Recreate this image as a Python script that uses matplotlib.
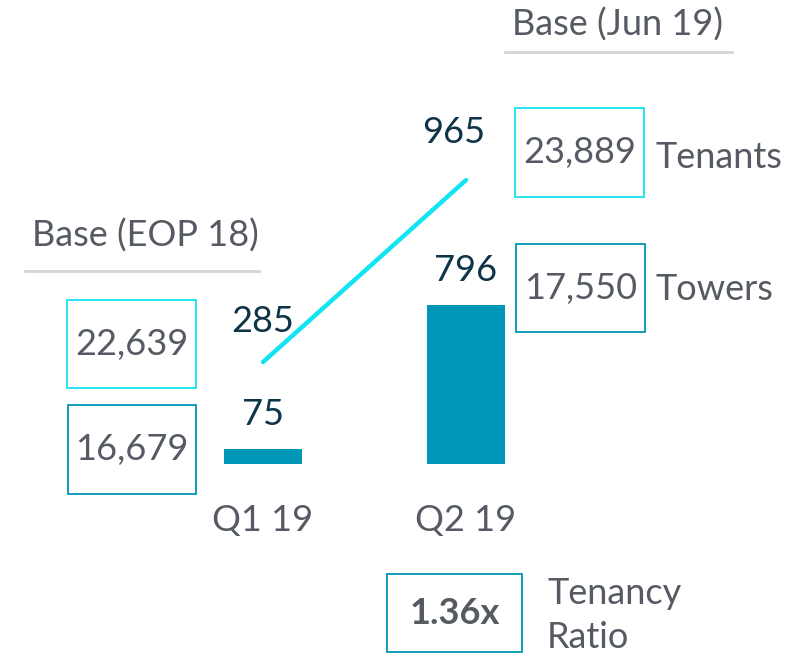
import matplotlib
matplotlib.use("Agg")
import matplotlib.pyplot as plt
from matplotlib.patches import Rectangle

plt.rcParams['font.family'] = ['Lato', 'DejaVu Sans']

# quarterly additions
quarters = ['Q1 19', 'Q2 19']
towers_added = [75, 796]
tenants_added = [285, 965]

# base figures
base_eop18 = {'tenants': '22,639', 'towers': '16,679'}
base_jun19 = {'tenants': '23,889', 'towers': '17,550'}
tenancy_ratio = '1.36x'

BAR = '#0096b8'
LINE = '#13e4f2'
NAVY = '#0d3447'
GRAY = '#555a63'
RULE = '#d4d4d4'
FS = 26

W, H = 796, 657
fig = plt.figure(figsize=(W / 100, H / 100), dpi=100)

# main axes: bars on the left scale, tenants line on a twin scale
ax = fig.add_axes([161.5 / W, 193 / H, 406 / W, 464 / H])
ax.set_xlim(-0.5, 1.5)
ax.set_ylim(0, 2323)
ax.axis('off')
x = list(range(len(quarters)))
ax.bar(x, towers_added, width=0.384, color=BAR)
for xi, v in zip(x, towers_added):
    ax.annotate(str(v), (xi, v), xytext=(0, 25), textcoords='offset points',
                ha='center', va='center', fontsize=FS, color=NAVY)
for xi, q in zip(x, quarters):
    ax.annotate(q, (xi, 0), xytext=(0, -41), textcoords='offset points',
                ha='center', va='center', fontsize=FS, color=GRAY)

ax2 = ax.twinx()
ax2.set_xlim(-0.5, 1.5)
ax2.set_ylim(-96, 1638)
ax2.axis('off')
ax2.plot(x, tenants_added, color=LINE, lw=3.2, solid_capstyle='round')
offsets = [(0, 29), (-9, 34)]
for xi, v, off in zip(x, tenants_added, offsets):
    ax2.annotate(str(v), (xi, v), xytext=off, textcoords='offset points',
                 ha='center', va='center', fontsize=FS, color=NAVY)

# overlay in pixel coordinates for boxes and headings
ov = fig.add_axes([0, 0, 1, 1])
ov.set_xlim(0, W)
ov.set_ylim(H, 0)
ov.axis('off')


def box(x0, y0, x1, y1, edge, text, bold=False):
    ov.add_patch(Rectangle((x0, y0), x1 - x0, y1 - y0, fill=False,
                           edgecolor=edge, lw=1.3))
    ov.text((x0 + x1) / 2, (y0 + y1) / 2, text, ha='center', va='center',
            fontsize=FS, color=GRAY, fontweight='bold' if bold else 'normal')


box(67, 300, 196, 388, LINE, base_eop18['tenants'])
box(68, 405, 196, 494, BAR, base_eop18['towers'])
box(515, 108, 644, 197, LINE, base_jun19['tenants'])
box(516, 244, 645, 332, BAR, base_jun19['towers'])
box(387, 574, 522, 652, BAR, tenancy_ratio, bold=True)

ov.text(655, 158, 'Tenants', ha='left', va='center', fontsize=FS, color=GRAY)
ov.text(655, 289, 'Towers', ha='left', va='center', fontsize=FS, color=GRAY)
ov.text(547, 594, 'Tenancy', ha='left', va='center', fontsize=FS, color=GRAY)
ov.text(547, 637, 'Ratio', ha='left', va='center', fontsize=FS, color=GRAY)

ov.text(145, 236, 'Base (EOP 18)', ha='center', va='center', fontsize=FS, color=GRAY)
ov.plot([25, 259], [271, 271], color=RULE, lw=2)
ov.text(617, 25, 'Base (Jun 19)', ha='center', va='center', fontsize=FS, color=GRAY)
ov.plot([505, 732], [52, 52], color=RULE, lw=2)

fig.savefig('out.png', dpi=100, facecolor='white')
